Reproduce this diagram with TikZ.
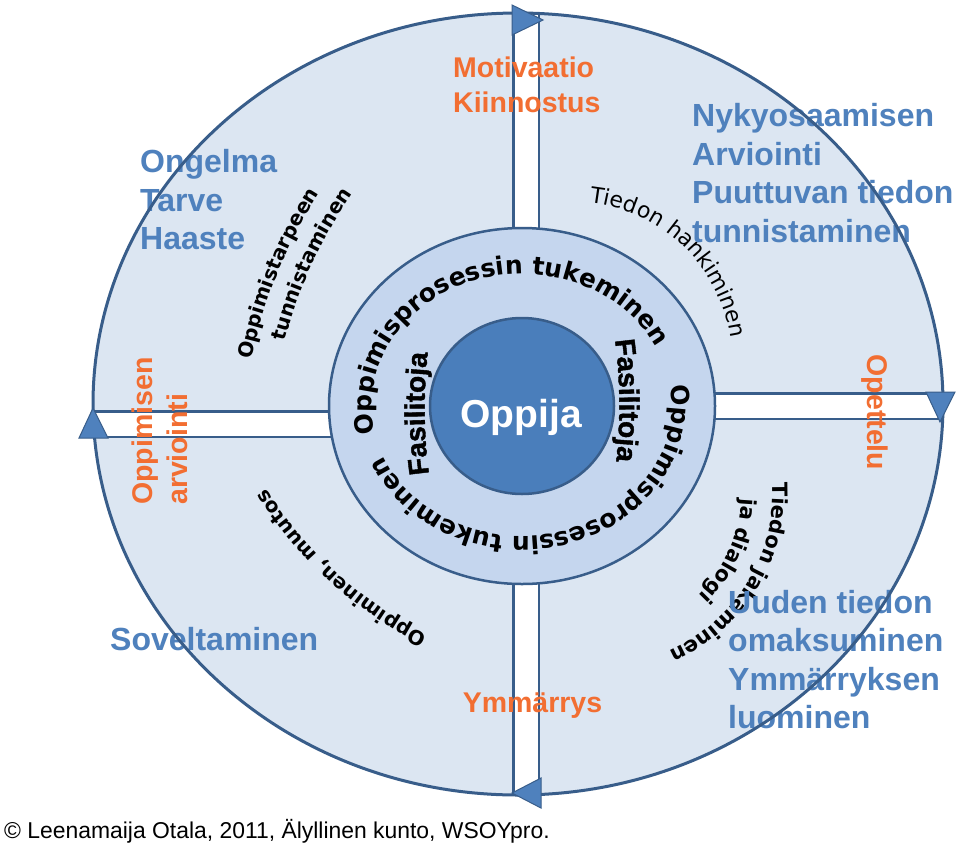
\documentclass[tikz,border=0pt]{standalone}
\usepackage{fontspec}
\setmainfont{Liberation Sans}
\newfontfamily\dejavu{DejaVu Sans}
\newfontfamily\heavyfont[FakeBold=1.5]{Liberation Sans Bold}
\usetikzlibrary{shapes.geometric,decorations.text}
\definecolor{rimblue}{RGB}{56,93,138}
\definecolor{paleblue}{RGB}{220,230,242}
\definecolor{ringblue}{RGB}{197,214,238}
\definecolor{coreblue}{RGB}{74,126,187}
\definecolor{labelblue}{RGB}{79,129,189}
\definecolor{labelorange}{RGB}{242,110,50}
\newcommand\arcfont[1]{\dejavu\bfseries\fontsize{#1}{#1}\selectfont}
\newcommand\arcthin[1]{\dejavu\fontsize{#1}{#1}\selectfont}
\newcommand\fasifont{\heavyfont\fontsize{28}{28}\selectfont}
\tikzset{
 disc/.style={
 ellipse,
 inner sep=0pt
 },
 bar/.style={
 draw=rimblue,
 line width=2.5pt,
 double=white,
 double distance=23pt
 },
 flag/.style={
 fill=labelblue,
 draw=rimblue,
 line width=1pt
 },
 bluelabel/.style={
 text=labelblue,
 font=\bfseries\fontsize{32}{38.5}\selectfont,
 align=left,
 inner sep=0pt
 },
 orangelabel/.style={
 text=labelorange,
 font=\bfseries\fontsize{28.5}{35}\selectfont,
 align=left,
 inner sep=0pt
 },
 arctext/.style={decorate, decoration={text along path, text={#1}}}
}

\begin{document}
\begin{tikzpicture}[x=1pt, y=-1pt]
 \useasboundingbox (0,0) rectangle (960,844);
 \fill[white] (0,0) rectangle (960,844);

 % outer disc and the four bars
 \node[disc, fill=paleblue, minimum width=850pt, minimum height=782pt] (outer) at (518,404) {};
 \coordinate (topin) at (526,240);
 \coordinate (topout) at (526,14);
 \coordinate (rightin) at (700,406);
 \coordinate (rightout) at (942,406);
 \coordinate (botin) at (526,570);
 \coordinate (botout) at (526,795);
 \coordinate (leftin) at (345,424);
 \coordinate (leftout) at (94,424);
 \draw[bar] (topin) -- (topout);
 \draw[bar] (rightin) -- (rightout);
 \draw[bar] (botin) -- (botout);
 \draw[bar] (leftin) -- (leftout);

 % ring and learner
 \node[disc, fill=ringblue, draw=rimblue, line width=2.5pt, minimum width=386pt, minimum height=356pt] (ring) at (522,406) {};
 \node[disc, fill=coreblue, draw=rimblue, line width=2.5pt, minimum width=184pt, minimum height=176pt] (core) at (522,406) {};
 \node[text=white, font=\bfseries\fontsize{39}{39}\selectfont, anchor=base, inner sep=0pt] (oppija) at (521,427) {Oppija};

 % curved texts
 \path[arctext={|\arcfont{25}|Oppimisprosessin tukeminen}] (ring.center) ++(168:150 and 132) arc[start angle=168, end angle=355, x radius=150, y radius=132];
 \path[arctext={|\arcfont{25}|Oppimisprosessin tukeminen}] (ring.center) ++(-9:150 and 130) arc[start angle=-9, end angle=175, x radius=150, y radius=130];
 \path[arctext={|\fasifont|Fasilitoja}] (429,474) .. controls (423,430) and (423,385) .. (430,335);
 \path[arctext={|\fasifont|Fasilitoja}] (615,340) .. controls (621,385) and (621,430) .. (614,478);
 \path[arctext={|\arcfont{20}|Oppimistarpeen}] (730,457) ++(191.5:488) arc[start angle=191.5, end angle=230, radius=488];
 \path[arctext={|\arcfont{20}|tunnistaminen}] (730,457) ++(194.5:460) arc[start angle=194.5, end angle=230, radius=460];
 \path[arctext={|\arcthin{22}|Tiedon hankiminen}] (573,361) ++(-84:159) arc[start angle=-84, end angle=10, radius=159];
 \path[arctext={|\arcfont{21}|Tiedon jakaminen}] (599,492) ++(-3:174) arc[start angle=-3, end angle=75, radius=174];
 \path[arctext={|\arcfont{21}|ja dialogi}] (599,492) ++(2.5:143) arc[start angle=2.5, end angle=70, radius=143];
 \path[arctext={|\arcfont{20}|Oppiminen, muutos}] (608,275) ++(116.6:403) arc[start angle=116.6, end angle=160, radius=403];

 % labels
 \node[bluelabel, anchor=north west] (need) at (140,149.6) {Ongelma\\Tarve\\Haaste};
 \node[bluelabel, anchor=north west] (known) at (692,103.6) {Nykyosaamisen\\Arviointi\\Puuttuvan tiedon\\tunnistaminen};
 \node[bluelabel, anchor=base west] (apply) at (110,650) {Soveltaminen};
 \node[bluelabel, anchor=north west] (newinfo) at (728,589.6) {Uuden tiedon\\omaksuminen\\Ymmärryksen\\luominen};
 \node[orangelabel, anchor=north west] (motiv) at (453,57) {Motivaatio\\Kiinnostus};
 \node[orangelabel, anchor=base] (insight) at (532.5,712) {Ymmärrys};
 \node[orangelabel, anchor=base, rotate=-90] (practice) at (867,412.5) {Opettelu};
 \node[orangelabel, anchor=south west, rotate=90] (assess) at (188,505) {Oppimisen\\arviointi};

 % outer rim and flags
 \draw[draw=rimblue, line width=3pt] (outer.center) ellipse [x radius=425, y radius=391];
 \filldraw[flag] (512,5) -- (543,20) -- (512,35) -- cycle;
 \filldraw[flag] (926,392) -- (955,392) -- (940,422) -- cycle;
 \filldraw[flag] (512,793) -- (541,778) -- (541,808) -- cycle;
 \filldraw[flag] (79,438) -- (108,438) -- (93,408) -- cycle;

 \node[anchor=base west, inner sep=0pt, font=\fontsize{22.9}{22.9}\selectfont] (credit) at (4,838) {© Leenamaija Otala, 2011, Älyllinen kunto, WSOYpro.};
\end{tikzpicture}
\end{document}
